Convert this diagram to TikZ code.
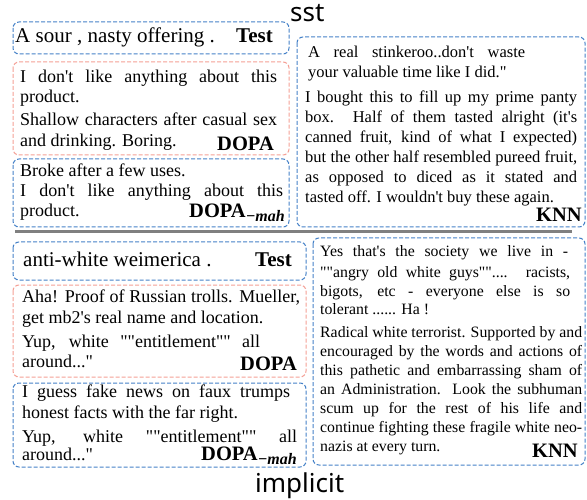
\documentclass[tikz,border=0pt]{standalone}
\usepackage{fontspec}
\newfontfamily\tnr{Liberation Serif}
\newfontfamily\hand{Noto Sans}
\definecolor{bbox}{RGB}{70,130,200}
\definecolor{pbox}{RGB}{245,160,150}
\definecolor{sepgray}{RGB}{128,128,128}
\newcommand\jst[2]{\makebox[#1pt][s]{#2}}
\newcommand\mahsub{\raisebox{-4pt}{\fontsize{16}{16}\selectfont\bfseries\itshape −mah}}
\begin{document}
\begin{tikzpicture}[x=1pt,y=-1pt,
 frame/.style={line width=1pt, dash pattern=on 4pt off 2pt, rounded corners=6pt},
 bluebox/.style={frame, draw=bbox},
 pinkbox/.style={frame, draw=pbox},
 ln/.style={anchor=base west, inner sep=0pt},
 big/.style={ln, font=\tnr\fontsize{21}{24}\selectfont},
 body/.style={ln, font=\tnr\fontsize{18}{20}\selectfont},
 knn/.style={ln, font=\tnr\fontsize{16.5}{20}\selectfont},
 knnb/.style={ln, font=\tnr\fontsize{15.8}{19}\selectfont},
 lab/.style={anchor=base east, inner sep=0pt, font=\tnr\bfseries\fontsize{20.5}{20}\selectfont},
 tlab/.style={anchor=base east, inner sep=0pt, font=\tnr\bfseries\fontsize{21}{21}\selectfont},
 hw/.style={anchor=base west, inner sep=0pt, font=\hand\fontsize{26}{26}\selectfont}]
\useasboundingbox[fill=white] (0,0) rectangle (587,500);

% ---------- frames ----------
\draw[bluebox] (13,22) rectangle (289,54);
\draw[pinkbox] (13,62) rectangle (289,155);
\draw[bluebox] (13,159) rectangle (289,227);
\draw[bluebox] (297,37) rectangle (585,227);
\draw[sepgray, line width=3pt] (15,232) -- (572,232);
\draw[bluebox] (13,242) rectangle (306,280);
\draw[pinkbox] (13,285) rectangle (306,377);
\draw[bluebox] (13,383) rectangle (306,467);
\draw[bluebox] (313,238) rectangle (585,465);

% ---------- handwritten labels ----------
\node[hw] (sst) at (290,22) {sst};
\node[hw] (implicit) at (255,492) {implicit};

% ---------- top half ----------
\node[big] (t1) at (15,43) {A sour , nasty offering .};
\node[tlab] (t1l) at (273,43) {Test};

\node[body] (d1a) at (20,83) {\jst{257}{I don't like anything about this}};
\node[body] (d1b) at (20,103) {product.};
\node[body] (d1c) at (20,126) {\jst{257}{Shallow characters after casual sex}};
\node[body] (d1d) at (20,147) {and drinking. Boring.};
\node[lab] (d1l) at (274,151) {DOPA};

\node[body] (m1a) at (20,177) {Broke after a few uses.};
\node[body] (m1b) at (20,197) {\jst{263}{I don't like anything about this}};
\node[body] (m1c) at (20,217) {product.};
\node[lab] (m1l) at (285,218) {DOPA\mahsub};

\node[knn] (k1a) at (308,58) {\jst{217}{A real stinkeroo..don't waste}};
\node[knn] (k1b) at (308,78) {your valuable time like I did."};
\node[knn] (k1c) at (305,103) {\jst{272}{I bought this to fill up my prime panty}};
\node[knn] (k1d) at (305,123) {\jst{272}{box. Half of them tasted alright (it's}};
\node[knn] (k1e) at (305,143) {\jst{272}{canned fruit, kind of what I expected)}};
\node[knn] (k1f) at (305,163) {\jst{272}{but the other half resembled pureed fruit,}};
\node[knn] (k1g) at (305,183) {\jst{272}{as opposed to diced as it stated and}};
\node[knn] (k1h) at (305,203) {tasted off. I wouldn't buy these again.};
\node[lab] (k1l) at (582,222) {KNN};

% ---------- bottom half ----------
\node[big] (t2) at (23,266) {anti-white weimerica .};
\node[tlab] (t2l) at (292,266) {Test};

\node[body] (d2a) at (22,302) {\jst{278}{Aha! Proof of Russian trolls. Mueller,}};
\node[body] (d2b) at (22,323) {get mb2's real name and location.};
\node[body] (d2c) at (22,347) {\jst{238}{Yup, white ""entitlement"" all}};
\node[body] (d2d) at (22,367) {around..."};
\node[lab] (d2l) at (297,370) {DOPA};

\node[body] (m2a) at (22,397) {\jst{268}{I guess fake news on faux trumps}};
\node[body] (m2b) at (22,418) {honest facts with the far right.};
\node[body] (m2c) at (22,442) {\jst{275}{Yup, white ""entitlement"" all}};
\node[body] (m2d) at (22,460) {around..."};
\node[lab] (m2l) at (297,460) {DOPA\mahsub};

\node[knnb] (k2a) at (320,257) {\jst{248}{Yes that's the society we live in -}};
\node[knnb] (k2b) at (320,277) {\jst{250}{""angry old white guys"".... racists,}};
\node[knnb] (k2c) at (320,296) {\jst{250}{bigots, etc - everyone else is so}};
\node[knnb] (k2d) at (320,314) {tolerant ...... Ha !};
\node[knnb] (k2e) at (320,337) {\jst{262}{Radical white terrorist. Supported by and}};
\node[knnb] (k2f) at (320,356) {\jst{262}{encouraged by the words and actions of}};
\node[knnb] (k2g) at (320,375) {\jst{262}{this pathetic and embarrassing sham of}};
\node[knnb] (k2h) at (320,394) {\jst{262}{an Administration. Look the subhuman}};
\node[knnb] (k2i) at (320,413) {\jst{262}{scum up for the rest of his life and}};
\node[knnb] (k2j) at (320,432) {\jst{262}{continue fighting these fragile white neo-}};
\node[knnb] (k2k) at (320,451) {nazis at every turn.};
\node[lab] (k2l) at (578,457) {KNN};
\end{tikzpicture}
\end{document}
